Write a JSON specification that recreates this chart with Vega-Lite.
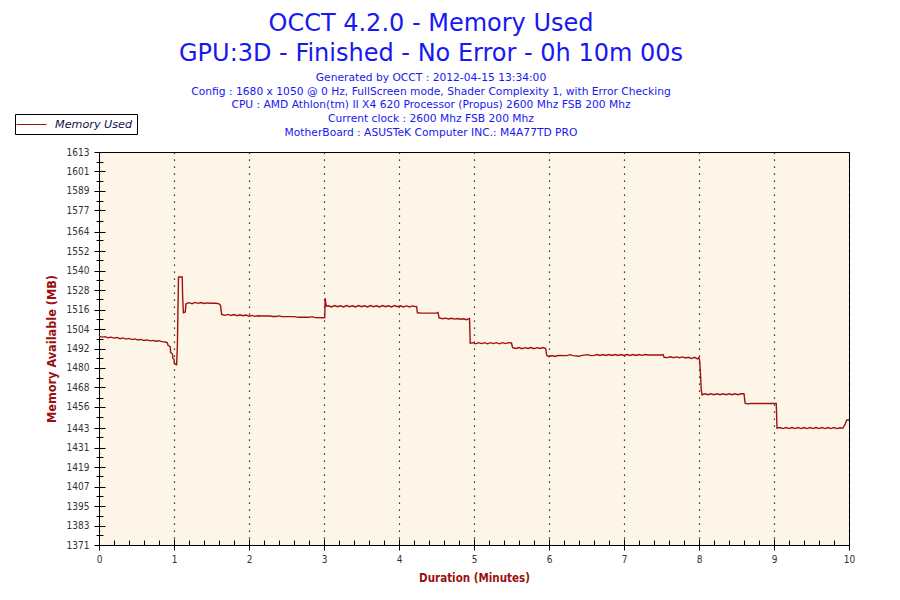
{
  "$schema": "https://vega.github.io/schema/vega-lite/v6.json",
  "autosize": "none",
  "width": 750,
  "height": 393,
  "padding": {"left": 99, "top": 152, "right": 51, "bottom": 55},
  "background": "white",
  "title": {
    "text": ["OCCT 4.2.0 - Memory Used", "GPU:3D - Finished - No Error - 0h 10m 00s"],
    "subtitle": [
      "Generated by OCCT : 2012-04-15 13:34:00",
      "Config : 1680 x 1050 @ 0 Hz, FullScreen mode, Shader Complexity 1, with Error Checking",
      "CPU : AMD Athlon(tm) II X4 620 Processor (Propus) 2600 Mhz FSB 200 Mhz",
      "Current clock : 2600 Mhz FSB 200 Mhz",
      "MotherBoard : ASUSTeK Computer INC.: M4A77TD PRO"
    ],
    "anchor": "middle",
    "dx": -43,
    "offset": -24.5,
    "font": "DejaVu Sans",
    "fontSize": 24,
    "fontWeight": "normal",
    "lineHeight": 30,
    "color": "#1818f0",
    "subtitleFont": "DejaVu Sans",
    "subtitleFontSize": 10.7,
    "subtitleColor": "#1818f0",
    "subtitleLineHeight": 13.9,
    "subtitlePadding": 7
  },
  "data": {
    "values": [
      {"min": 0.00, "mb": 1499.5}, {"min": 0.04, "mb": 1499.0}, {"min": 0.08, "mb": 1499.3},
      {"min": 0.12, "mb": 1498.6}, {"min": 0.16, "mb": 1499.0}, {"min": 0.20, "mb": 1498.4},
      {"min": 0.24, "mb": 1498.8}, {"min": 0.28, "mb": 1498.0}, {"min": 0.32, "mb": 1498.5},
      {"min": 0.36, "mb": 1497.8}, {"min": 0.40, "mb": 1498.2}, {"min": 0.44, "mb": 1497.5},
      {"min": 0.48, "mb": 1497.9}, {"min": 0.52, "mb": 1497.2}, {"min": 0.56, "mb": 1497.6},
      {"min": 0.60, "mb": 1496.9}, {"min": 0.64, "mb": 1497.3}, {"min": 0.68, "mb": 1496.7},
      {"min": 0.72, "mb": 1497.0}, {"min": 0.76, "mb": 1496.5}, {"min": 0.80, "mb": 1496.8},
      {"min": 0.84, "mb": 1496.2}, {"min": 0.88, "mb": 1496.0}, {"min": 0.91, "mb": 1495.6},
      {"min": 0.92, "mb": 1494.0}, {"min": 0.95, "mb": 1493.2}, {"min": 0.955, "mb": 1489.5},
      {"min": 0.98, "mb": 1488.6}, {"min": 0.985, "mb": 1486.0}, {"min": 1.00, "mb": 1485.4},
      {"min": 1.005, "mb": 1482.6}, {"min": 1.035, "mb": 1482.0}, {"min": 1.045, "mb": 1494.0},
      {"min": 1.06, "mb": 1536.0}, {"min": 1.11, "mb": 1536.0}, {"min": 1.115, "mb": 1524.0},
      {"min": 1.125, "mb": 1514.0}, {"min": 1.15, "mb": 1514.5}, {"min": 1.16, "mb": 1519.5},
      {"min": 1.20, "mb": 1520.2}, {"min": 1.24, "mb": 1519.6}, {"min": 1.28, "mb": 1520.4},
      {"min": 1.32, "mb": 1519.8}, {"min": 1.36, "mb": 1520.3}, {"min": 1.40, "mb": 1519.7},
      {"min": 1.44, "mb": 1520.1}, {"min": 1.48, "mb": 1519.9}, {"min": 1.56, "mb": 1519.9},
      {"min": 1.60, "mb": 1519.5}, {"min": 1.62, "mb": 1518.6}, {"min": 1.635, "mb": 1513.0},
      {"min": 1.68, "mb": 1512.4}, {"min": 1.72, "mb": 1513.0}, {"min": 1.76, "mb": 1512.3},
      {"min": 1.80, "mb": 1512.9}, {"min": 1.84, "mb": 1512.2}, {"min": 1.88, "mb": 1512.8},
      {"min": 1.92, "mb": 1512.2}, {"min": 1.96, "mb": 1512.6}, {"min": 2.00, "mb": 1511.9},
      {"min": 2.04, "mb": 1512.4}, {"min": 2.08, "mb": 1511.8}, {"min": 2.12, "mb": 1512.2},
      {"min": 2.16, "mb": 1512.0}, {"min": 2.28, "mb": 1512.0}, {"min": 2.32, "mb": 1511.7},
      {"min": 2.36, "mb": 1511.7}, {"min": 2.40, "mb": 1512.1}, {"min": 2.44, "mb": 1511.6},
      {"min": 2.60, "mb": 1511.6}, {"min": 2.66, "mb": 1511.2}, {"min": 2.80, "mb": 1511.2},
      {"min": 2.84, "mb": 1511.6}, {"min": 2.88, "mb": 1511.0}, {"min": 3.00, "mb": 1510.9},
      {"min": 3.01, "mb": 1511.0}, {"min": 3.015, "mb": 1523.0}, {"min": 3.025, "mb": 1519.5},
      {"min": 3.035, "mb": 1518.0}, {"min": 3.06, "mb": 1518.3}, {"min": 3.10, "mb": 1517.6},
      {"min": 3.14, "mb": 1518.4}, {"min": 3.18, "mb": 1517.7}, {"min": 3.22, "mb": 1518.3},
      {"min": 3.26, "mb": 1517.6}, {"min": 3.30, "mb": 1518.4}, {"min": 3.34, "mb": 1517.7},
      {"min": 3.38, "mb": 1518.3}, {"min": 3.42, "mb": 1517.6}, {"min": 3.46, "mb": 1518.4},
      {"min": 3.50, "mb": 1517.7}, {"min": 3.54, "mb": 1518.3}, {"min": 3.58, "mb": 1517.6},
      {"min": 3.62, "mb": 1518.4}, {"min": 3.66, "mb": 1517.7}, {"min": 3.70, "mb": 1518.3},
      {"min": 3.74, "mb": 1517.6}, {"min": 3.78, "mb": 1518.4}, {"min": 3.82, "mb": 1517.7},
      {"min": 3.86, "mb": 1518.3}, {"min": 3.90, "mb": 1517.6}, {"min": 3.94, "mb": 1518.4},
      {"min": 3.98, "mb": 1517.7}, {"min": 4.02, "mb": 1518.3}, {"min": 4.06, "mb": 1517.6},
      {"min": 4.10, "mb": 1518.2}, {"min": 4.14, "mb": 1517.6}, {"min": 4.18, "mb": 1518.2},
      {"min": 4.22, "mb": 1517.8}, {"min": 4.235, "mb": 1517.9}, {"min": 4.245, "mb": 1514.0},
      {"min": 4.30, "mb": 1513.8}, {"min": 4.50, "mb": 1513.8}, {"min": 4.52, "mb": 1514.2},
      {"min": 4.535, "mb": 1510.8}, {"min": 4.58, "mb": 1510.3}, {"min": 4.62, "mb": 1510.7},
      {"min": 4.66, "mb": 1510.2}, {"min": 4.70, "mb": 1510.6}, {"min": 4.74, "mb": 1510.1},
      {"min": 4.78, "mb": 1510.5}, {"min": 4.82, "mb": 1510.0}, {"min": 4.86, "mb": 1510.3},
      {"min": 4.90, "mb": 1509.7}, {"min": 4.94, "mb": 1510.5}, {"min": 4.945, "mb": 1503.0},
      {"min": 4.95, "mb": 1495.2}, {"min": 4.98, "mb": 1495.6}, {"min": 5.02, "mb": 1494.9},
      {"min": 5.06, "mb": 1495.6}, {"min": 5.10, "mb": 1495.0}, {"min": 5.14, "mb": 1495.6},
      {"min": 5.18, "mb": 1494.9}, {"min": 5.22, "mb": 1495.6}, {"min": 5.26, "mb": 1495.0},
      {"min": 5.30, "mb": 1495.6}, {"min": 5.34, "mb": 1494.9}, {"min": 5.38, "mb": 1495.6},
      {"min": 5.42, "mb": 1495.0}, {"min": 5.46, "mb": 1495.6}, {"min": 5.50, "mb": 1495.4},
      {"min": 5.515, "mb": 1492.5}, {"min": 5.56, "mb": 1492.0}, {"min": 5.60, "mb": 1492.6},
      {"min": 5.64, "mb": 1491.9}, {"min": 5.68, "mb": 1492.5}, {"min": 5.72, "mb": 1492.0},
      {"min": 5.76, "mb": 1492.6}, {"min": 5.80, "mb": 1491.9}, {"min": 5.84, "mb": 1492.5},
      {"min": 5.88, "mb": 1492.0}, {"min": 5.92, "mb": 1492.6}, {"min": 5.955, "mb": 1492.0},
      {"min": 5.97, "mb": 1487.8}, {"min": 6.00, "mb": 1487.0}, {"min": 6.04, "mb": 1487.7},
      {"min": 6.08, "mb": 1487.1}, {"min": 6.12, "mb": 1487.7}, {"min": 6.24, "mb": 1487.6},
      {"min": 6.28, "mb": 1488.2}, {"min": 6.32, "mb": 1487.6}, {"min": 6.40, "mb": 1487.2},
      {"min": 6.44, "mb": 1487.8}, {"min": 6.52, "mb": 1488.2}, {"min": 6.56, "mb": 1487.6},
      {"min": 6.60, "mb": 1487.8}, {"min": 6.64, "mb": 1488.3}, {"min": 6.68, "mb": 1487.7},
      {"min": 6.72, "mb": 1488.3}, {"min": 6.76, "mb": 1487.7}, {"min": 6.80, "mb": 1488.3},
      {"min": 6.84, "mb": 1487.7}, {"min": 6.88, "mb": 1488.3}, {"min": 6.92, "mb": 1487.7},
      {"min": 6.96, "mb": 1488.3}, {"min": 7.00, "mb": 1487.7}, {"min": 7.04, "mb": 1488.3},
      {"min": 7.08, "mb": 1487.7}, {"min": 7.12, "mb": 1488.3}, {"min": 7.16, "mb": 1487.7},
      {"min": 7.20, "mb": 1488.3}, {"min": 7.24, "mb": 1487.8}, {"min": 7.28, "mb": 1488.3},
      {"min": 7.32, "mb": 1488.0}, {"min": 7.50, "mb": 1488.0}, {"min": 7.52, "mb": 1488.2},
      {"min": 7.535, "mb": 1486.6}, {"min": 7.58, "mb": 1486.4}, {"min": 7.62, "mb": 1486.9},
      {"min": 7.66, "mb": 1486.3}, {"min": 7.70, "mb": 1486.8}, {"min": 7.74, "mb": 1486.3},
      {"min": 7.78, "mb": 1486.8}, {"min": 7.82, "mb": 1486.2}, {"min": 7.86, "mb": 1486.6},
      {"min": 7.90, "mb": 1485.8}, {"min": 7.94, "mb": 1486.6}, {"min": 7.98, "mb": 1485.6},
      {"min": 8.00, "mb": 1486.5}, {"min": 8.01, "mb": 1484.0}, {"min": 8.02, "mb": 1476.0},
      {"min": 8.03, "mb": 1466.5}, {"min": 8.04, "mb": 1463.5}, {"min": 8.08, "mb": 1464.1},
      {"min": 8.12, "mb": 1463.5}, {"min": 8.16, "mb": 1464.1}, {"min": 8.20, "mb": 1463.5},
      {"min": 8.24, "mb": 1464.1}, {"min": 8.28, "mb": 1463.5}, {"min": 8.32, "mb": 1464.1},
      {"min": 8.36, "mb": 1463.5}, {"min": 8.40, "mb": 1464.1}, {"min": 8.44, "mb": 1463.5},
      {"min": 8.48, "mb": 1464.1}, {"min": 8.52, "mb": 1463.5}, {"min": 8.56, "mb": 1464.1},
      {"min": 8.60, "mb": 1464.1}, {"min": 8.615, "mb": 1458.3}, {"min": 8.64, "mb": 1457.9},
      {"min": 8.70, "mb": 1458.1}, {"min": 9.03, "mb": 1458.1}, {"min": 9.04, "mb": 1443.0},
      {"min": 9.08, "mb": 1443.3}, {"min": 9.12, "mb": 1442.7}, {"min": 9.16, "mb": 1443.3},
      {"min": 9.20, "mb": 1442.7}, {"min": 9.24, "mb": 1443.3}, {"min": 9.28, "mb": 1442.7},
      {"min": 9.32, "mb": 1443.3}, {"min": 9.36, "mb": 1442.7}, {"min": 9.40, "mb": 1443.3},
      {"min": 9.44, "mb": 1442.7}, {"min": 9.48, "mb": 1443.3}, {"min": 9.52, "mb": 1442.7},
      {"min": 9.56, "mb": 1443.3}, {"min": 9.60, "mb": 1442.7}, {"min": 9.64, "mb": 1443.3},
      {"min": 9.68, "mb": 1442.7}, {"min": 9.72, "mb": 1443.3}, {"min": 9.76, "mb": 1442.7},
      {"min": 9.80, "mb": 1443.3}, {"min": 9.84, "mb": 1442.7}, {"min": 9.88, "mb": 1443.2},
      {"min": 9.92, "mb": 1443.0}, {"min": 9.95, "mb": 1445.5}, {"min": 9.97, "mb": 1448.0},
      {"min": 10.00, "mb": 1448.0}
    ]
  },
  "layer": [
    {
      "mark": {"type": "line", "strokeWidth": 1.4, "clip": true},
      "encoding": {
        "x": {
          "field": "min",
          "type": "quantitative",
          "scale": {"domain": [0, 10], "nice": false, "zero": false},
          "axis": {
            "title": "Duration (Minutes)",
            "values": [0, 0.2, 0.4, 0.6, 0.8, 1, 1.2, 1.4, 1.6, 1.8, 2, 2.2, 2.4, 2.6, 2.8, 3, 3.2, 3.4, 3.6, 3.8, 4, 4.2, 4.4, 4.6, 4.8, 5, 5.2, 5.4, 5.6, 5.8, 6, 6.2, 6.4, 6.6, 6.8, 7, 7.2, 7.4, 7.6, 7.8, 8, 8.2, 8.4, 8.6, 8.8, 9, 9.2, 9.4, 9.6, 9.8, 10],
            "tickCount": 200,
            "tickMinStep": 0.01,
            "labelExpr": "datum.value % 1 != 0 ? '' : format(datum.value, 'd')",
            "tickSize": {"condition": {"test": "datum.value % 1 != 0", "value": 0}, "value": 5},
            "grid": true,
            "gridOpacity": {"condition": {"test": "datum.value % 1 != 0", "value": 0}, "value": 1},
            "gridColor": "black",
            "gridDash": [1.2, 5.8],
            "gridWidth": 1.2,
            "labelFlush": false,
            "labelOverlap": false,
            "labelPadding": 4,
            "titlePadding": 8
          }
        },
        "y": {
          "field": "mb",
          "type": "quantitative",
          "scale": {"domain": [1371, 1613], "nice": false, "zero": false},
          "axis": {
            "title": "Memory Available (MB)",
            "titleFontSize": 12.6,
            "values": [1371, 1377.05, 1383, 1389.15, 1395, 1401.25, 1407, 1413.35, 1419, 1425.45, 1431, 1437.55, 1443, 1449.65, 1456, 1461.75, 1468, 1473.85, 1480, 1485.95, 1492, 1498.05, 1504, 1510.15, 1516, 1522.25, 1528, 1534.35, 1540, 1546.45, 1552, 1558.55, 1564, 1570.65, 1577, 1582.75, 1589, 1594.85, 1601, 1606.95, 1613],
            "tickCount": 200,
            "tickMinStep": 0.01,
            "labelExpr": "datum.value % 1 != 0 ? '' : format(datum.value, 'd')",
            "tickSize": {"condition": {"test": "datum.value % 1 != 0", "value": 3}, "value": 5},
            "grid": false,
            "labelOverlap": false,
            "labelPadding": 5,
            "titlePadding": 8
          }
        },
        "color": {
          "datum": "Memory Used",
          "type": "nominal",
          "scale": {"range": ["#a01010"]},
          "legend": {
            "title": null,
            "orient": "none",
            "legendX": -84,
            "legendY": -38
          }
        }
      }
    },
    {
      "mark": {"type": "line", "strokeOpacity": 0},
      "encoding": {
        "x": {
          "field": "min",
          "type": "quantitative",
          "axis": {
            "orient": "bottom",
            "values": [0, 0.2, 0.4, 0.6, 0.8, 1, 1.2, 1.4, 1.6, 1.8, 2, 2.2, 2.4, 2.6, 2.8, 3, 3.2, 3.4, 3.6, 3.8, 4, 4.2, 4.4, 4.6, 4.8, 5, 5.2, 5.4, 5.6, 5.8, 6, 6.2, 6.4, 6.6, 6.8, 7, 7.2, 7.4, 7.6, 7.8, 8, 8.2, 8.4, 8.6, 8.8, 9, 9.2, 9.4, 9.6, 9.8, 10],
            "tickCount": 200,
            "tickMinStep": 0.01,
            "labels": false,
            "domain": false,
            "grid": false,
            "title": null,
            "tickSize": {"condition": {"test": "datum.value % 1 != 0", "value": -5}, "value": -6}
          }
        },
        "y": {
          "field": "mb",
          "type": "quantitative",
          "axis": {
            "orient": "left",
            "values": [1371, 1377.05, 1383, 1389.15, 1395, 1401.25, 1407, 1413.35, 1419, 1425.45, 1431, 1437.55, 1443, 1449.65, 1456, 1461.75, 1468, 1473.85, 1480, 1485.95, 1492, 1498.05, 1504, 1510.15, 1516, 1522.25, 1528, 1534.35, 1540, 1546.45, 1552, 1558.55, 1564, 1570.65, 1577, 1582.75, 1589, 1594.85, 1601, 1606.95, 1613],
            "tickCount": 200,
            "tickMinStep": 0.01,
            "labels": false,
            "domain": false,
            "grid": false,
            "title": null,
            "tickSize": {"condition": {"test": "datum.value % 1 != 0", "value": -4}, "value": -6}
          }
        }
      }
    }
  ],
  "resolve": {"axis": {"x": "independent", "y": "independent"}},
  "config": {
    "view": {"fill": "#fdf6e8", "stroke": "black", "strokeWidth": 1},
    "axis": {
      "domainColor": "black",
      "domainWidth": 1,
      "tickColor": "black",
      "tickWidth": 1,
      "labelFont": "DejaVu Sans Condensed, DejaVu Sans",
      "labelFontSize": 10,
      "labelColor": "#333333",
      "titleFont": "DejaVu Sans Condensed, DejaVu Sans",
      "titleFontSize": 11.5,
      "titleFontWeight": "bold",
      "titleColor": "#9a0f0f"
    },
    "legend": {
      "strokeColor": "black",
      "fillColor": "white",
      "padding": 4,
      "symbolType": "M-1.5,0H3.5",
      "symbolSize": 144,
      "symbolStrokeWidth": 1,
      "labelFont": "DejaVu Sans",
      "labelFontSize": 11.2,
      "labelFontStyle": "italic",
      "labelColor": "#10104a",
      "labelOffset": 23,
      "cornerRadius": 0
    }
  }
}
